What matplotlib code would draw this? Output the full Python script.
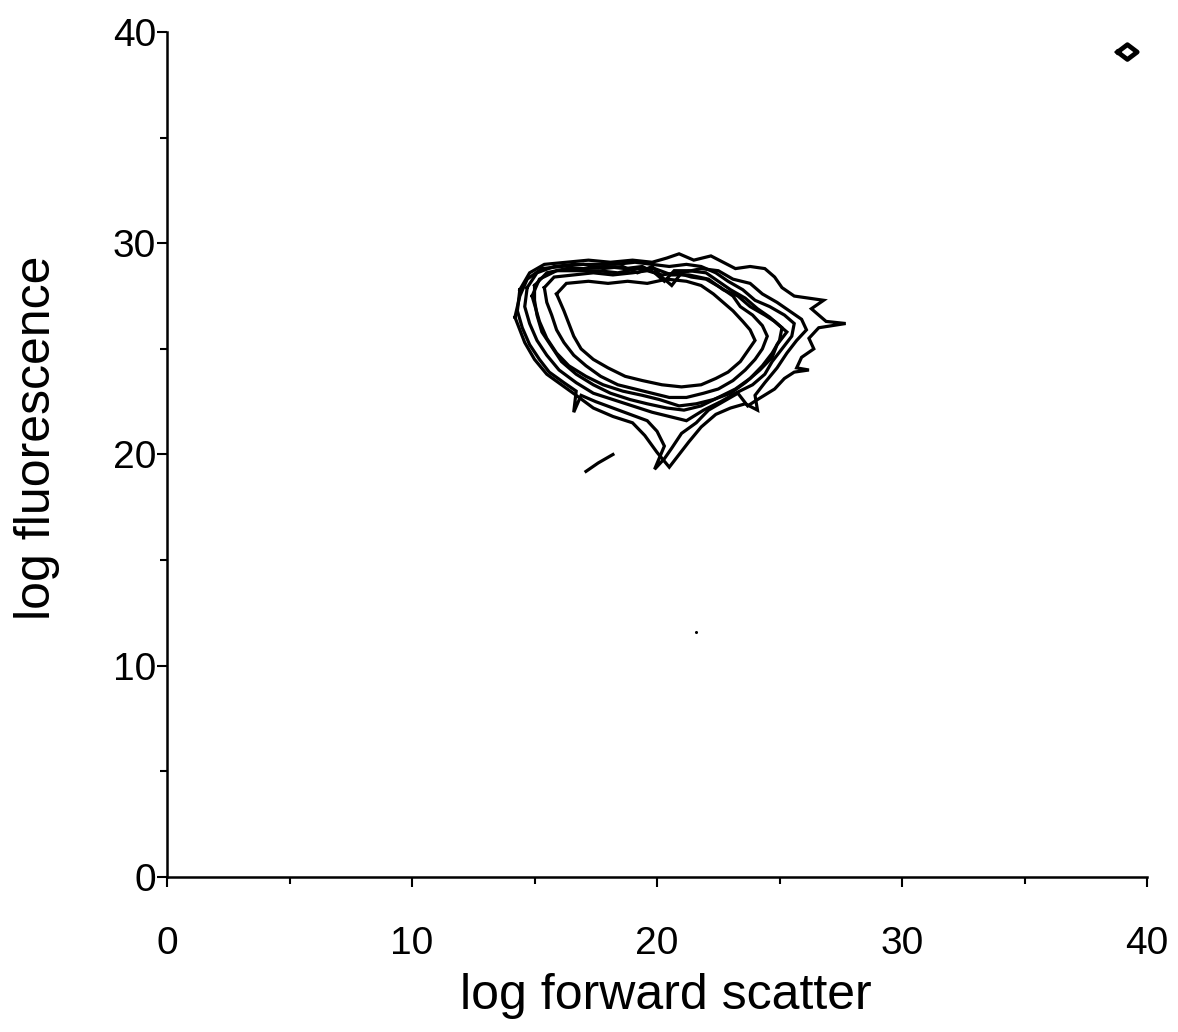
import matplotlib
matplotlib.use("Agg")
import matplotlib.pyplot as plt
from matplotlib.ticker import MultipleLocator

# Contour lines (log forward scatter, log fluorescence).
contour_a = [(15.9, 27.6), (16.3, 28.1), (17.2, 28.2), (18.0, 28.1), (18.8, 28.2), (19.6, 28.1),
             (20.4, 28.3), (21.2, 28.2), (21.8, 28.0), (22.3, 27.6), (22.7, 27.2), (23.1, 26.8),
             (23.5, 26.3), (23.8, 25.9), (24.0, 25.4), (23.7, 24.9), (23.4, 24.4), (22.9, 23.9),
             (22.4, 23.6), (21.8, 23.3), (21.0, 23.2), (20.2, 23.3), (19.4, 23.5), (18.7, 23.7),
             (18.0, 24.1), (17.4, 24.5), (16.9, 25.0), (16.6, 25.6), (16.4, 26.2), (16.2, 26.8),
             (15.9, 27.6)]
contour_b = [(15.4, 27.9), (15.8, 28.4), (16.6, 28.5), (17.4, 28.6), (18.2, 28.5), (19.0, 28.6),
             (19.6, 28.7), (20.2, 28.5), (20.8, 28.6), (21.4, 28.4), (22.0, 28.3), (22.6, 27.9),
             (23.1, 27.5), (23.4, 27.0), (23.9, 26.6), (24.3, 26.1), (24.5, 25.6), (24.3, 25.0),
             (24.0, 24.5), (23.6, 24.0), (23.1, 23.5), (22.5, 23.1), (21.9, 22.9), (21.2, 22.7),
             (20.5, 22.7), (19.8, 22.9), (19.1, 23.1), (18.4, 23.3), (17.7, 23.7), (17.1, 24.2),
             (16.6, 24.7), (16.2, 25.3), (15.9, 25.9), (15.7, 26.6), (15.5, 27.2), (15.4, 27.9)]
contour_c = [(15.0, 28.0), (15.5, 28.6), (16.3, 28.8), (17.1, 28.8), (17.9, 28.9), (18.7, 28.8),
             (19.4, 28.9), (19.9, 28.6), (20.3, 28.2), (20.7, 28.7), (21.3, 28.7), (22.0, 28.6),
             (22.5, 28.2), (23.0, 27.8), (23.6, 27.4), (24.1, 26.9), (24.6, 26.5), (25.1, 26.0),
             (25.0, 25.4), (24.7, 24.8), (24.3, 24.2), (23.8, 23.6), (23.2, 23.1), (22.5, 22.7),
             (21.8, 22.3), (21.1, 22.1), (20.4, 22.2), (19.6, 22.4), (18.9, 22.6), (18.1, 22.9),
             (17.4, 23.3), (16.7, 23.8), (16.1, 24.4), (15.7, 25.1), (15.3, 25.8), (15.1, 26.6),
             (15.0, 27.3), (15.0, 28.0)]
contour_d = [(14.7, 27.9), (15.1, 28.6), (15.8, 28.9), (16.6, 29.0), (17.5, 29.0), (18.3, 29.0),
             (19.1, 29.1), (19.8, 29.0), (20.5, 28.9), (21.2, 29.0), (21.8, 28.9), (22.4, 28.6),
             (22.9, 28.2), (23.5, 27.8), (24.0, 27.3), (24.6, 27.0), (25.2, 26.6), (25.6, 26.2),
             (25.5, 25.6), (25.1, 25.0), (24.7, 24.4), (24.4, 23.8), (23.9, 23.3), (23.2, 22.9),
             (22.6, 22.5), (21.9, 22.1), (21.2, 21.6), (20.5, 21.8), (19.8, 22.0), (19.0, 22.3),
             (18.2, 22.6), (17.4, 22.9), (16.7, 23.4), (16.0, 24.0), (15.5, 24.7), (15.1, 25.4),
             (14.8, 26.2), (14.6, 27.0), (14.7, 27.9)]
contour_e = [(14.4, 27.8), (14.8, 28.6), (15.4, 29.0), (16.3, 29.1), (17.2, 29.2), (18.1, 29.1),
             (19.0, 29.2), (19.8, 29.1), (20.4, 29.3), (20.9, 29.5), (21.5, 29.2), (22.2, 29.4),
             (22.7, 29.1), (23.2, 28.8), (23.8, 28.9), (24.4, 28.8), (24.8, 28.4), (25.1, 27.9),
             (25.6, 27.5), (26.2, 27.4), (26.8, 27.3), (26.3, 26.9), (26.9, 26.3), (27.7, 26.2),
             (26.6, 26.0), (26.2, 25.5), (26.4, 25.0), (25.9, 24.6), (25.7, 24.1), (26.2, 24.0),
             (25.6, 23.9), (25.2, 23.6), (24.8, 23.1), (24.1, 22.6), (23.7, 22.3), (23.3, 22.9),
             (22.7, 22.5), (22.1, 22.1), (21.6, 21.5), (21.0, 21.0), (20.6, 20.3), (20.3, 19.8),
             (19.9, 19.3), (20.3, 20.4), (20.0, 21.1), (19.6, 21.6), (18.9, 21.9), (18.2, 22.2),
             (17.5, 22.5), (16.9, 22.8), (16.6, 22.0), (16.7, 23.0), (16.2, 23.4), (15.6, 23.9),
             (15.2, 24.5), (14.8, 25.2), (14.5, 26.0), (14.3, 26.8), (14.4, 27.8)]
contour_f = [(14.2, 26.5), (14.4, 27.5), (14.7, 28.3), (15.3, 28.8), (16.1, 28.9), (17.0, 29.0),
             (17.8, 28.8), (18.6, 28.9), (19.2, 28.6), (19.8, 28.9), (20.2, 28.4), (20.6, 28.0),
             (21.0, 28.6), (21.8, 28.8), (22.5, 28.7), (23.1, 28.3), (23.8, 28.1), (24.3, 27.6),
             (24.9, 27.2), (25.4, 26.8), (25.9, 26.4), (26.1, 25.9), (25.7, 25.4), (25.3, 24.8),
             (24.9, 24.1), (24.4, 23.4), (24.0, 22.8), (24.1, 22.1), (23.6, 22.4), (23.0, 22.2),
             (22.4, 21.9), (21.8, 21.3), (21.3, 20.6), (20.9, 20.0), (20.5, 19.4), (20.0, 20.1),
             (19.5, 20.9), (19.0, 21.5), (18.2, 21.8), (17.4, 22.2), (16.7, 22.8), (16.1, 23.3),
             (15.5, 23.8), (15.0, 24.5), (14.6, 25.3), (14.2, 26.5)]
contour_h = [(14.9, 27.5), (15.2, 28.3), (15.9, 28.7), (16.8, 28.7), (17.6, 28.7), (18.4, 28.6),
             (19.2, 28.8), (19.9, 28.8), (20.6, 28.5), (21.3, 28.5), (22.1, 28.3), (22.7, 27.8),
             (23.3, 27.5), (23.8, 27.0), (24.4, 26.6), (24.8, 26.3), (25.3, 25.8), (24.9, 25.2),
             (24.7, 24.6), (24.2, 24.0), (23.6, 23.4), (23.0, 22.9), (22.3, 22.6), (21.6, 22.4),
             (20.9, 22.3), (20.1, 22.6), (19.4, 22.8), (18.6, 23.0), (17.8, 23.3), (17.1, 23.7),
             (16.4, 24.2), (15.9, 24.8), (15.5, 25.5), (15.2, 26.3), (14.9, 27.5)]
contour_g = [(17.1, 19.2), (17.6, 19.6), (18.2, 20.0)]
corner_blob = [(38.8, 39.05), (39.2, 39.4), (39.6, 39.05), (39.2, 38.7), (38.8, 39.05)]
stray_dot = (21.6, 11.6)

x_ticks = [0, 10, 20, 30, 40]
y_ticks = [0, 10, 20, 30, 40]

plt.rcParams["font.family"] = ["Liberation Sans", "DejaVu Sans"]

fig = plt.figure(figsize=(11.78, 10.32), dpi=100)
ax = fig.add_axes([0.1418, 0.1502, 0.8319, 0.8188])

paths = [contour_a, contour_b, contour_c, contour_h, contour_d, contour_e, contour_f, contour_g]
for path in paths:
    xs, ys = zip(*path)
    ax.plot(xs, ys, color="black", lw=2.3, solid_joinstyle="miter")

bx, by = zip(*corner_blob)
ax.plot(bx, by, color="black", lw=3.4)
ax.plot(*stray_dot, marker="o", ms=1.2, color="black")

ax.set_xlim(0, 40)
ax.set_ylim(0, 40)
ax.set_xticks(x_ticks)
ax.set_yticks(y_ticks)
ax.xaxis.set_minor_locator(MultipleLocator(5))
ax.yaxis.set_minor_locator(MultipleLocator(5))
ax.tick_params(axis="both", which="major", direction="out", length=7, width=1.5,
               labelsize=28, color="black")
ax.tick_params(axis="both", which="minor", direction="out", length=5, width=1.5)
ax.tick_params(axis="x", which="major", pad=28)
ax.tick_params(axis="y", which="major", pad=1)

for side in ["top", "right"]:
    ax.spines[side].set_visible(False)
for side in ["left", "bottom"]:
    ax.spines[side].set_linewidth(1.8)

ax.set_xlabel("log forward scatter", fontsize=36, labelpad=8)
ax.set_ylabel("log fluorescence", fontsize=36, labelpad=38)
ax.xaxis.label.set_x(0.509)
ax.yaxis.label.set_y(0.52)

fig.savefig("out.png", dpi=100)
